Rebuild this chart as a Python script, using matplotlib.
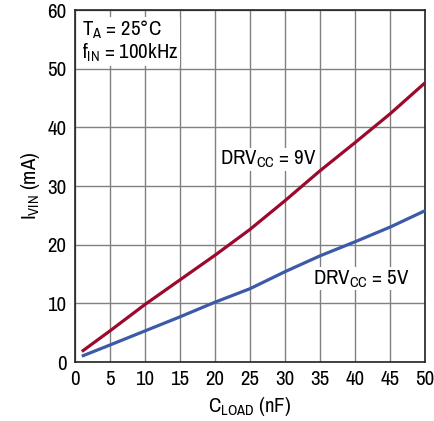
import matplotlib
matplotlib.use("Agg")
import matplotlib.pyplot as plt

c_load = [1, 5, 10, 15, 20, 25, 30, 35, 40, 45, 50]
i_9v = [1.8, 5.3, 9.8, 14.0, 18.2, 22.6, 27.5, 32.6, 37.4, 42.3, 47.6]
i_5v = [1.0, 2.9, 5.3, 7.7, 10.2, 12.5, 15.4, 18.1, 20.5, 23.0, 25.8]
x_ticks = list(range(0, 51, 5))
y_ticks = list(range(0, 61, 10))

plt.rcParams['font.family'] = ['Archivo Narrow', 'DejaVu Sans']
plt.rcParams['mathtext.fontset'] = 'custom'
plt.rcParams['mathtext.rm'] = 'Archivo Narrow'

fig = plt.figure(figsize=(4.35, 4.21), dpi=100)
ax = fig.add_axes([0.172, 0.140, 0.805, 0.836])

ax.plot(c_load, i_9v, color='#9B0A2E', lw=2.3, solid_capstyle='butt', zorder=3)
ax.plot(c_load, i_5v, color='#3C5AA8', lw=2.3, solid_capstyle='butt', zorder=3)

ax.set_xlim(0, 50)
ax.set_ylim(0, 60)
ax.set_xticks(x_ticks)
ax.set_yticks(y_ticks)
ax.tick_params(length=0, labelsize=15, pad=6)
ax.grid(True, color='#808080', lw=1)
ax.set_axisbelow(True)
for s in ax.spines.values():
    s.set_color('#222222')
    s.set_linewidth(1.2)

ax.set_xlabel('C$_{\\mathregular{LOAD}}$ (nF)', fontsize=15, labelpad=4)
ax.set_ylabel('I$_{\\mathregular{VIN}}$ (mA)', fontsize=15, labelpad=4)

ax.text(1.0, 58.6, 'T$_{\\mathregular{A}}$ = 25°C\nf$_{\\mathregular{IN}}$ = 100kHz', fontsize=15,
        va='top', ha='left', linespacing=1.05,
        bbox=dict(facecolor='white', edgecolor='none', pad=1))
ax.text(20.7, 34.5, 'DRV$_{\\mathregular{CC}}$ = 9V', fontsize=15, va='center', ha='left',
        bbox=dict(facecolor='white', edgecolor='none', pad=0.5), zorder=2)
ax.text(34.0, 14.2, 'DRV$_{\\mathregular{CC}}$ = 5V', fontsize=15, va='center', ha='left',
        bbox=dict(facecolor='white', edgecolor='none', pad=0.5), zorder=2)

fig.savefig('out.png', dpi=100)
